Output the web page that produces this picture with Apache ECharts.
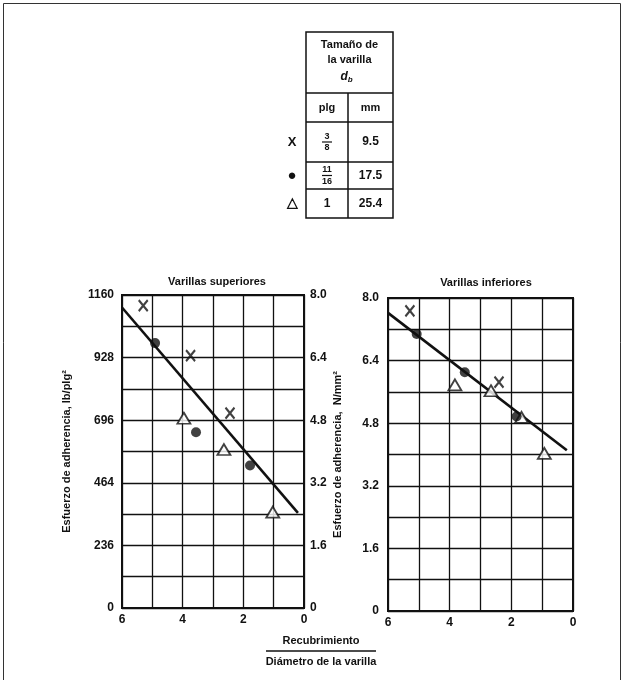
<!DOCTYPE html>
<html>
<head>
<meta charset="utf-8">
<script src="https://cdn.jsdelivr.net/npm/echarts@6/dist/echarts.min.js"></script>
<style>
  html, body { margin: 0; padding: 0; background: #fff; }
  #chart { width: 624px; height: 680px; }
</style>
</head>
<body>
<div id="chart"></div>
<script>
// Cover / bar diameter (x) against bond stress in N/mm² (y)
// Top bars ("Varillas superiores")
const topCrossCover = [5.30, 3.74, 2.44];
const topCrossStress = [7.73, 6.45, 4.98];
const topDotCover = [4.91, 3.56, 1.78];
const topDotStress = [6.77, 4.49, 3.64];
const topTriCover = [3.96, 2.64, 1.03];
const topTriStress = [4.85, 4.05, 2.45];
const topFitCover = [6, 0.2];
const topFitStress = [7.68, 2.43];

// Bottom bars ("Varillas inferiores")
const botCrossCover = [5.29, 2.40];
const botCrossStress = [7.67, 5.85];
const botDotCover = [5.07, 3.51, 1.83];
const botDotStress = [7.08, 6.10, 4.97];
const botTriCover = [3.83, 2.66, 1.67, 0.93];
const botTriStress = [5.78, 5.63, 4.95, 4.03];
const botFitCover = [6, 0.2];
const botFitStress = [7.62, 4.11];

// Tick labels
const coverTicks = ['0', '2', '4', '6'];
const lbTicks = ['0', '236', '464', '696', '928', '1160'];
const nmmTicks = ['0', '1.6', '3.2', '4.8', '6.4', '8.0'];

// Bar size legend table
const barSymbols = ['X', '●', '△'];
const barPlgNum = ['3', '11', ''];
const barPlgDen = ['8', '16', ''];
const barPlgWhole = ['', '', '1'];
const barMm = ['9.5', '17.5', '25.4'];

const FONT = '"Liberation Sans", Arial, Helvetica, sans-serif';
const INK = '#111';

function pairs(xs, ys) { return xs.map((x, i) => [x, ys[i]]); }

function stressLabel(arr) {
  return function (v) {
    const i = Math.round(v / 0.8);
    return i % 2 === 0 ? arr[i / 2] : '';
  };
}
function coverLabel(v) {
  const r = Math.round(v);
  return r % 2 === 0 ? coverTicks[r / 2] : '';
}

const crossPath = 'path://M0,0L10,11M10,0L0,11';

const tickText = { color: INK, fontFamily: FONT, fontSize: 12, fontWeight: 'bold' };
const gridLine = { show: true, lineStyle: { color: '#111', width: 1.3 } };
const axisLine = { show: true, lineStyle: { color: '#111', width: 2 } };

function xAxisFor(gridIndex) {
  return {
    gridIndex, type: 'value', min: 0, max: 6, interval: 1, inverse: true,
    axisLine, axisTick: { show: false }, splitLine: gridLine,
    axisLabel: Object.assign({ formatter: coverLabel, margin: 6 }, tickText)
  };
}

function scatterSeries(name, xi, data, kind) {
  const s = {
    name, type: 'scatter', xAxisIndex: xi, yAxisIndex: xi === 0 ? 0 : 2,
    data, z: 5
  };
  if (kind === 'cross') {
    s.symbol = crossPath; s.symbolSize = [9, 11];
    s.itemStyle = { color: 'rgba(0,0,0,0)', borderColor: '#111', borderWidth: 2.2 };
  } else if (kind === 'dot') {
    s.symbol = 'circle'; s.symbolSize = 10;
    s.itemStyle = { color: '#111' };
  } else {
    s.symbol = 'triangle'; s.symbolSize = [13, 11];
    s.itemStyle = { color: '#fff', borderColor: '#111', borderWidth: 1.8 };
  }
  return s;
}

function fitSeries(xi, data) {
  return {
    type: 'line', xAxisIndex: xi, yAxisIndex: xi === 0 ? 0 : 2,
    data, symbol: 'none', z: 4,
    lineStyle: { color: '#111', width: 2.6 }
  };
}

// Legend table geometry
const tL = 306, tM = 348, tR = 393;
const rows = [32, 93, 122, 162, 189, 218];
const table = [];
table.push({ type: 'rect', shape: { x: tL, y: rows[0], width: tR - tL, height: rows[5] - rows[0] },
  style: { fill: 'none', stroke: '#111', lineWidth: 1.5 } });
for (let r = 1; r < 5; r++) {
  table.push({ type: 'line', shape: { x1: tL, y1: rows[r], x2: tR, y2: rows[r] },
    style: { stroke: '#111', lineWidth: 1.5 } });
}
table.push({ type: 'line', shape: { x1: tM, y1: rows[1], x2: tM, y2: rows[5] },
  style: { stroke: '#111', lineWidth: 1.5 } });
const headStyle = { fill: INK, font: '11px ' + FONT, textAlign: 'center', textVerticalAlign: 'middle' };
table.push({ type: 'text', x: (tL + tR) / 2, y: 45, style: Object.assign({ text: 'Tamaño de' }, headStyle, { font: 'bold 11px ' + FONT }) });
table.push({ type: 'text', x: (tL + tR) / 2, y: 60, style: Object.assign({ text: 'la varilla' }, headStyle, { font: 'bold 11px ' + FONT }) });
table.push({ type: 'text', x: (tL + tR) / 2 - 3, y: 77, style: {
  text: '{d|d}{b|b}', textAlign: 'center', textVerticalAlign: 'middle',
  rich: {
    d: { fontFamily: FONT, fontSize: 12, fontStyle: 'italic', fontWeight: 'bold', fill: INK },
    b: { fontFamily: FONT, fontSize: 8, fontStyle: 'italic', fontWeight: 'bold', fill: INK, padding: [6, 0, 0, 0] }
  } } });
table.push({ type: 'text', x: (tL + tM) / 2, y: 108, style: Object.assign({ text: 'plg' }, headStyle, { font: 'bold 11px ' + FONT }) });
table.push({ type: 'text', x: (tM + tR) / 2, y: 108, style: Object.assign({ text: 'mm' }, headStyle, { font: 'bold 11px ' + FONT }) });
for (let i = 0; i < 3; i++) {
  const cy = (rows[i + 2] + rows[i + 3]) / 2;
  const cx = (tL + tM) / 2;
  table.push({ type: 'text', x: 292, y: cy, style: Object.assign({ text: barSymbols[i] }, headStyle,
    { font: (i === 0 ? 'bold 13px ' : i === 1 ? '15px ' : 'bold 14px ') + FONT }) });
  if (barPlgWhole[i]) {
    table.push({ type: 'text', x: cx, y: cy, style: Object.assign({ text: barPlgWhole[i] }, headStyle, { font: 'bold 12px ' + FONT }) });
  } else {
    table.push({ type: 'text', x: cx, y: cy - 5.5, style: Object.assign({ text: barPlgNum[i] }, headStyle, { font: 'bold 9px ' + FONT }) });
    table.push({ type: 'line', shape: { x1: cx - 5, y1: cy, x2: cx + 5, y2: cy }, style: { stroke: '#111', lineWidth: 1.2 } });
    table.push({ type: 'text', x: cx, y: cy + 6, style: Object.assign({ text: barPlgDen[i] }, headStyle, { font: 'bold 9px ' + FONT }) });
  }
  table.push({ type: 'text', x: (tM + tR) / 2, y: cy, style: Object.assign({ text: barMm[i] }, headStyle, { font: 'bold 12px ' + FONT }) });
}

// Shared x-axis title: ratio of cover to bar diameter
const ratio = [
  { type: 'text', x: 321, y: 641, style: Object.assign({ text: 'Recubrimiento' }, headStyle, { font: 'bold 11px ' + FONT }) },
  { type: 'line', shape: { x1: 266, y1: 651, x2: 376, y2: 651 }, style: { stroke: '#111', lineWidth: 1.3 } },
  { type: 'text', x: 321, y: 662, style: Object.assign({ text: 'Diámetro de la varilla' }, headStyle, { font: 'bold 11px ' + FONT }) }
];

const frame = [{ type: 'rect', shape: { x: 3.5, y: 3.5, width: 617, height: 700 },
  style: { fill: 'none', stroke: '#333', lineWidth: 1 } }];

const option = {
  backgroundColor: '#fff',
  animation: false,
  textStyle: { fontFamily: FONT },
  title: [
    { text: 'Varillas superiores', left: 212, top: 271, textAlign: 'center',
      textStyle: { fontFamily: FONT, fontSize: 11, fontWeight: 'bold', color: INK } },
    { text: 'Varillas inferiores', left: 481, top: 272, textAlign: 'center',
      textStyle: { fontFamily: FONT, fontSize: 11, fontWeight: 'bold', color: INK } }
  ],
  grid: [
    { left: 122, top: 295, width: 182, height: 313, show: true, borderColor: '#111', borderWidth: 2, backgroundColor: 'transparent' },
    { left: 388, top: 298, width: 185, height: 313, show: true, borderColor: '#111', borderWidth: 2, backgroundColor: 'transparent' }
  ],
  xAxis: [xAxisFor(0), xAxisFor(1)],
  yAxis: [
    { gridIndex: 0, type: 'value', min: 0, max: 8, interval: 0.8, position: 'left',
      axisLine, axisTick: { show: false }, splitLine: gridLine,
      axisLabel: Object.assign({ formatter: stressLabel(lbTicks), margin: 8 }, tickText),
      name: 'Esfuerzo de adherencia, lb/plg²', nameLocation: 'middle', nameGap: 50, nameRotate: 90,
      nameTextStyle: { color: INK, fontFamily: FONT, fontSize: 11, fontWeight: 'bold' } },
    { gridIndex: 0, type: 'value', min: 0, max: 8, interval: 0.8, position: 'right',
      axisLine, axisTick: { show: false }, splitLine: { show: false },
      axisLabel: Object.assign({ formatter: stressLabel(nmmTicks), margin: 6 }, tickText) },
    { gridIndex: 1, type: 'value', min: 0, max: 8, interval: 0.8, position: 'left',
      axisLine, axisTick: { show: false }, splitLine: gridLine,
      axisLabel: Object.assign({ formatter: stressLabel(nmmTicks), margin: 9 }, tickText),
      name: 'Esfuerzo de adherencia,  N/mm²', nameLocation: 'middle', nameGap: 45, nameRotate: 90,
      nameTextStyle: { color: INK, fontFamily: FONT, fontSize: 11, fontWeight: 'bold' } }
  ],
  series: [
    fitSeries(0, pairs(topFitCover, topFitStress)),
    scatterSeries('3/8 sup', 0, pairs(topCrossCover, topCrossStress), 'cross'),
    scatterSeries('11/16 sup', 0, pairs(topDotCover, topDotStress), 'dot'),
    scatterSeries('1 sup', 0, pairs(topTriCover, topTriStress), 'tri'),
    fitSeries(1, pairs(botFitCover, botFitStress)),
    scatterSeries('3/8 inf', 1, pairs(botCrossCover, botCrossStress), 'cross'),
    scatterSeries('1 inf', 1, pairs(botTriCover, botTriStress), 'tri'),
    scatterSeries('11/16 inf', 1, pairs(botDotCover, botDotStress), 'dot')
  ],
  graphic: frame.concat(table, ratio)
};

const chart = echarts.init(document.getElementById('chart'), null, { renderer: 'canvas' });
chart.setOption(option);
</script>
</body>
</html>
